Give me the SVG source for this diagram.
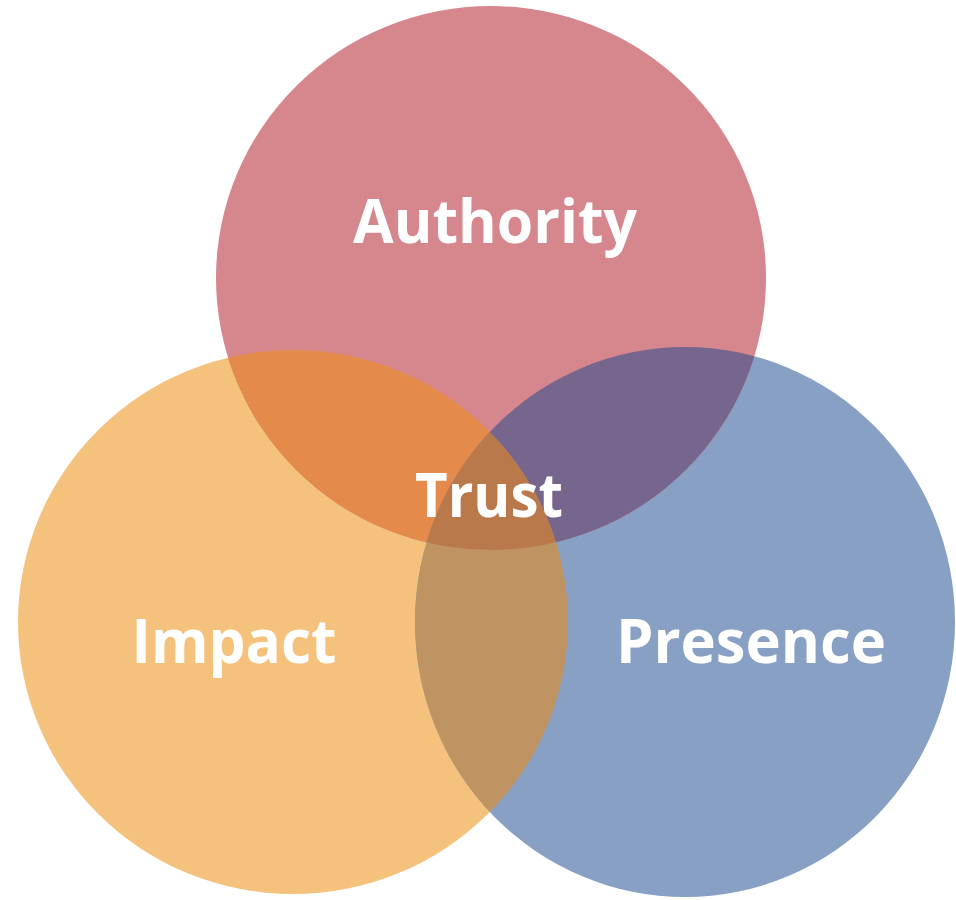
<svg xmlns="http://www.w3.org/2000/svg" width="956" height="900" viewBox="0 0 956 900">
  <style>
    .lbl { font-family: "Open Sans", "Noto Sans", "Liberation Sans", sans-serif; font-weight: 700; font-size: 60px; fill: #ffffff; text-anchor: middle; }
  </style>
  <defs>
    <ellipse id="shapeA" cx="491" cy="278" rx="275" ry="272"/>
    <ellipse id="shapeI" cx="293" cy="622" rx="275" ry="272"/>
    <ellipse id="shapeP" cx="685" cy="622" rx="270" ry="275"/>
    <clipPath id="clipA"><use href="#shapeA"/></clipPath>
    <clipPath id="clipI"><use href="#shapeI"/></clipPath>
    <clipPath id="clipAI" clip-path="url(#clipA)"><use href="#shapeI"/></clipPath>
  </defs>
  <rect width="956" height="900" fill="#ffffff"/>

  <g id="impact">
    <use href="#shapeI" fill="#f5c27d"/>
  </g>
  <g id="presence">
    <use href="#shapeP" fill="#87a0c3"/>
  </g>
  <g id="authority">
    <use href="#shapeA" fill="#d5878d"/>
  </g>
  <g id="overlaps">
    <use href="#shapeI" fill="#e48b4c" clip-path="url(#clipA)"/>
    <use href="#shapeP" fill="#76668d" clip-path="url(#clipA)"/>
    <use href="#shapeP" fill="#bf9462" clip-path="url(#clipI)"/>
    <use href="#shapeP" fill="#b9794a" clip-path="url(#clipAI)"/>
  </g>

  <g id="labels">
    <text class="lbl" x="495" y="243" textLength="284" lengthAdjust="spacingAndGlyphs">Authority</text>
    <text class="lbl" x="489" y="517" textLength="148" lengthAdjust="spacingAndGlyphs">Trust</text>
    <text class="lbl" x="234" y="663" textLength="205" lengthAdjust="spacingAndGlyphs">Impact</text>
    <text class="lbl" x="751" y="663" textLength="270" lengthAdjust="spacingAndGlyphs">Presence</text>
  </g>
</svg>
